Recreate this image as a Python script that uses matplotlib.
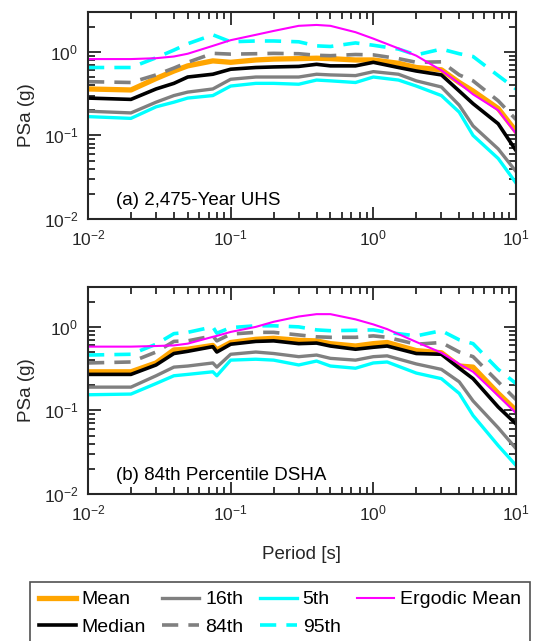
import numpy as np
import matplotlib
matplotlib.use("Agg")
import matplotlib.pyplot as plt
from matplotlib.ticker import LogLocator, NullFormatter

plt.rcParams['font.family'] = ['Liberation Sans', 'DejaVu Sans']
plt.rcParams['mathtext.default'] = 'regular'

# DATA
# (a) 2,475-year UHS
periods_a = [0.01, 0.02, 0.03, 0.04, 0.05, 0.075, 0.1, 0.15, 0.2, 0.3, 0.4,
             0.5, 0.75, 1.0, 1.5, 2, 3, 4, 5, 7.5, 10]
mean_a = [0.36, 0.35, 0.48, 0.59, 0.68, 0.78, 0.75, 0.80, 0.82, 0.83, 0.84,
          0.83, 0.80, 0.80, 0.73, 0.65, 0.61, 0.43, 0.34, 0.21, 0.112]
median_a = [0.28, 0.27, 0.36, 0.42, 0.50, 0.54, 0.62, 0.65, 0.66, 0.67, 0.71,
            0.68, 0.68, 0.75, 0.65, 0.59, 0.53, 0.34, 0.24, 0.138, 0.066]
p16_a = [0.195, 0.186, 0.25, 0.30, 0.33, 0.36, 0.47, 0.50, 0.50, 0.50, 0.54,
         0.53, 0.52, 0.58, 0.54, 0.45, 0.38, 0.23, 0.13, 0.069, 0.037]
p84_a = [0.44, 0.43, 0.53, 0.64, 0.75, 0.96, 0.94, 0.95, 0.96, 0.95, 0.91,
         0.90, 0.93, 0.92, 0.83, 0.75, 0.76, 0.53, 0.45, 0.26, 0.155]
p5_a = [0.168, 0.16, 0.22, 0.25, 0.28, 0.30, 0.39, 0.42, 0.42, 0.41, 0.46,
        0.45, 0.43, 0.50, 0.46, 0.39, 0.30, 0.19, 0.10, 0.053, 0.027]
p95_a = [0.65, 0.65, 0.85, 1.05, 1.25, 1.60, 1.32, 1.35, 1.35, 1.32, 1.18,
         1.16, 1.28, 1.20, 1.08, 0.92, 1.08, 0.95, 0.88, 0.52, 0.36]
ergodic_a = [0.82, 0.82, 0.84, 0.88, 0.95, 1.18, 1.38, 1.60, 1.78, 2.05, 2.10,
             2.05, 1.72, 1.44, 1.10, 0.90, 0.60, 0.42, 0.31, 0.20, 0.105]

# (b) 84th percentile DSHA
periods_b = [0.01, 0.02, 0.03, 0.04, 0.05, 0.075, 0.08, 0.1, 0.15, 0.2, 0.3,
             0.4, 0.5, 0.75, 1.0, 1.25, 2, 3, 4, 5, 7.5, 10]
mean_b = [0.29, 0.29, 0.37, 0.53, 0.54, 0.60, 0.53, 0.65, 0.71, 0.73, 0.69,
          0.68, 0.63, 0.59, 0.63, 0.65, 0.52, 0.49, 0.34, 0.33, 0.16, 0.10]
median_b = [0.27, 0.27, 0.35, 0.48, 0.51, 0.58, 0.50, 0.62, 0.67, 0.68, 0.63,
            0.64, 0.59, 0.54, 0.57, 0.59, 0.48, 0.47, 0.32, 0.24, 0.11, 0.069]
p16_b = [0.19, 0.19, 0.26, 0.33, 0.34, 0.37, 0.33, 0.47, 0.50, 0.48, 0.44,
         0.46, 0.42, 0.40, 0.44, 0.45, 0.36, 0.31, 0.22, 0.13, 0.062, 0.035]
p84_b = [0.37, 0.38, 0.50, 0.67, 0.68, 0.78, 0.68, 0.82, 0.86, 0.86, 0.80,
         0.76, 0.75, 0.75, 0.78, 0.75, 0.62, 0.65, 0.50, 0.44, 0.22, 0.135]
p5_b = [0.154, 0.157, 0.21, 0.26, 0.27, 0.29, 0.26, 0.40, 0.41, 0.40, 0.35,
        0.39, 0.34, 0.32, 0.37, 0.38, 0.28, 0.24, 0.16, 0.087, 0.038, 0.022]
p95_b = [0.46, 0.47, 0.62, 0.83, 0.86, 1.00, 0.84, 0.98, 1.03, 1.03, 1.00,
         0.92, 0.90, 0.91, 0.92, 0.86, 0.78, 0.90, 0.70, 0.63, 0.31, 0.21]
ergodic_b = [0.58, 0.58, 0.59, 0.60, 0.63, 0.76, 0.78, 0.87, 1.00, 1.15, 1.33,
             1.42, 1.42, 1.23, 1.07, 0.94, 0.66, 0.49, 0.36, 0.29, 0.15, 0.093]

panel_titles = ["(a) 2,475-Year UHS", "(b) 84th Percentile DSHA"]

AX_COLOR = "#262626"
DASH = (0, (4.5, 2.8))


def draw_panel(ax, T, mean, median, p16, p84, p5, p95, ergodic, title):
    ax.plot(T, mean, color="#FFA500", lw=3.8, label="Mean")
    ax.plot(T, median, color="black", lw=2.6, label="Median")
    ax.plot(T, p16, color="#808080", lw=2.4, label="16th")
    ax.plot(T, p84, color="#808080", lw=2.6, ls=DASH, label="84th")
    ax.plot(T, p5, color="#00FFFF", lw=2.4, label="5th")
    ax.plot(T, p95, color="#00FFFF", lw=2.6, ls=DASH, label="95th")
    ax.plot(T, ergodic, color="#FF00FF", lw=1.5, label="Ergodic Mean")

    ax.set_xscale("log")
    ax.set_yscale("log")
    ax.set_xlim(0.01, 10)
    ax.set_ylim(0.01, 3)
    ax.yaxis.set_major_locator(LogLocator(base=10, numticks=10))
    ax.yaxis.set_minor_locator(LogLocator(base=10, subs=np.arange(2, 10), numticks=10))
    ax.xaxis.set_minor_locator(LogLocator(base=10, subs=np.arange(2, 10), numticks=10))
    ax.yaxis.set_minor_formatter(NullFormatter())
    ax.xaxis.set_minor_formatter(NullFormatter())
    ax.tick_params(which="both", direction="in", top=True, right=True,
                   width=1.3, color=AX_COLOR, labelsize=12.5, labelcolor=AX_COLOR)
    ax.tick_params(which="major", length=9, pad=7)
    ax.tick_params(which="minor", length=5)
    for sp in ax.spines.values():
        sp.set_linewidth(1.5)
        sp.set_color(AX_COLOR)
    ax.set_ylabel("PSa (g)", fontsize=13.5, color=AX_COLOR, labelpad=6)
    ax.text(0.065, 0.09, title, transform=ax.transAxes, fontsize=13.5,
            color="black", va="center", ha="left")


fig = plt.figure(figsize=(5.36, 6.41), dpi=100)
ax1 = fig.add_axes([88 / 536, 1 - 219 / 641, 428 / 536, 207 / 641])
ax2 = fig.add_axes([88 / 536, 1 - 494 / 641, 428 / 536, 207 / 641])

draw_panel(ax1, periods_a, mean_a, median_a, p16_a, p84_a, p5_a, p95_a, ergodic_a, panel_titles[0])
draw_panel(ax2, periods_b, mean_b, median_b, p16_b, p84_b, p5_b, p95_b, ergodic_b, panel_titles[1])
ax2.set_xlabel("Period [s]", fontsize=13.5, color=AX_COLOR, labelpad=16)

handles, labels = ax2.get_legend_handles_labels()
leg = fig.legend(handles, labels, ncol=4, loc="upper left",
                 bbox_to_anchor=(30 / 536, 1 - 582 / 641), fontsize=14,
                 frameon=True, fancybox=False, edgecolor=AX_COLOR,
                 handlelength=1.9, handletextpad=0.3, columnspacing=0.85,
                 labelspacing=0.5, borderpad=0.45, borderaxespad=0)
leg.get_frame().set_linewidth(1.2)

fig.savefig("out.png", dpi=100)
